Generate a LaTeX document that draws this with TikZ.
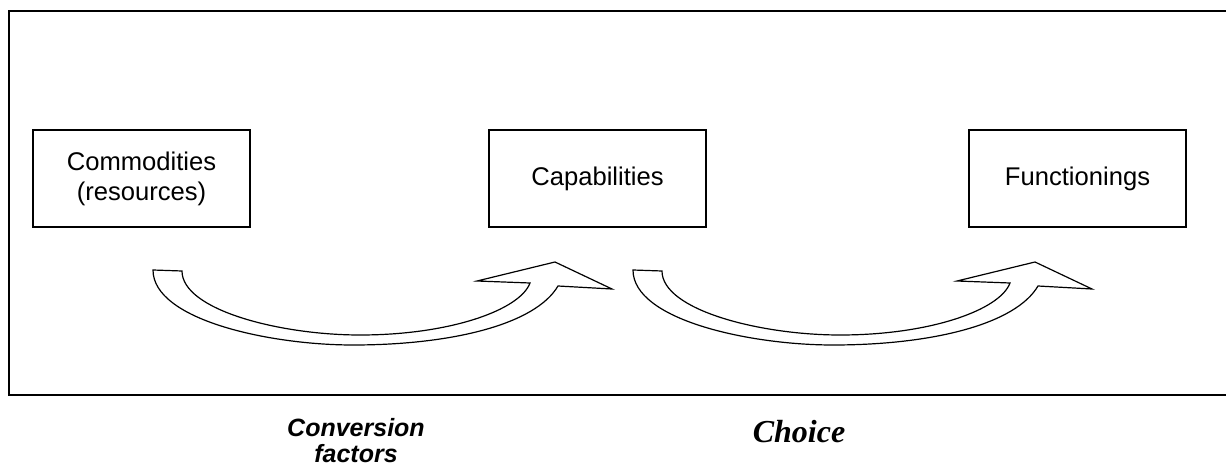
\documentclass[tikz,border=0pt]{standalone}
\usepackage{fontspec}
\setmainfont{Liberation Sans}
\newfontfamily\timesfont{Liberation Serif}
\usetikzlibrary{shapes}

\begin{document}
\begin{tikzpicture} [
    x=1pt, y=-1pt,
    node distance=456pt,
    pics/bentarrow/.style={code={
      \draw[line width=1.2pt, fill=white, line join=miter]
        (0,0) .. controls (0,50) and (117,75) .. (200,75)
              .. controls (297,75) and (382,55) .. (405,16)
        -- (459,19) -- (402,-8) -- (324,11) -- (377,13)
              .. controls (367,40) and (297,65) .. (207,65)
              .. controls (127,65) and (29,40) .. (29,1)
        -- cycle;
    }},
  ]

  \tikzstyle{stage} = [
    rectangle,
    draw=black,
    line width=2pt,
    minimum width=217pt,
    minimum height=97pt,
    align=center,
    font=\fontsize{25.6}{30}\selectfont,
  ]
  \tikzstyle{factor} = [
    align=center,
    font=\fontsize{25}{26}\selectfont\bfseries\itshape,
  ]

  \useasboundingbox (0,0) rectangle (1226,470);
  \clip (0,0) rectangle (1226,470);
  \draw[line width=1.5pt] (9,11) rectangle (1240,395);

  \node[stage]                          (com) at (141.5,178.5) {Commodities\\(resources)};
  \node[stage,right of=com]             (cap) {Capabilities};
  \node[stage,right of=cap, xshift=24pt] (fun) {Functionings};

  \pic at (153,270) {bentarrow};
  \pic at (633,270) {bentarrow};

  \node[factor] (conv)   at (356,441) {Conversion\\factors};
  \node[factor, font=\fontsize{32}{34}\selectfont\timesfont\bfseries\itshape]
                (choice) at (799,432) {Choice};

\end{tikzpicture}
\end{document}
